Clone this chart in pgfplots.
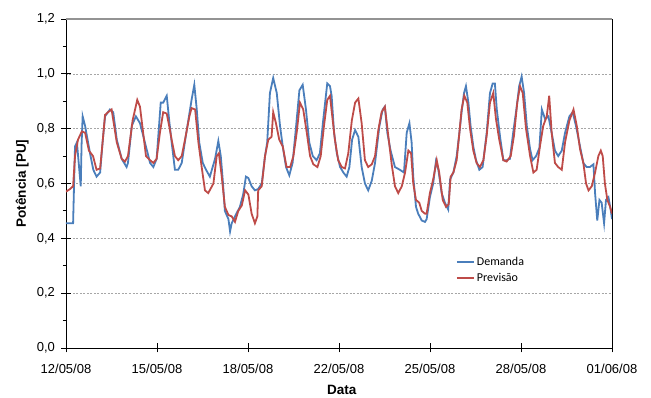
\documentclass[border=0pt]{standalone}
\usepackage{fontspec}
\setmainfont{Liberation Sans}
\newfontfamily\legendfont{Carlito}
\usepackage{pgfplots}
\pgfplotsset{compat=1.18}
\usepackage{pgfplotstable}
\definecolor{demblue}{RGB}{74,126,187}
\definecolor{prevred}{RGB}{190,75,72}

\pgfplotstableread{
d v
0.00 0.455
0.26 0.455
0.33 0.735
0.40 0.75
0.54 0.59
0.57 0.74
0.61 0.845
0.70 0.81
0.88 0.71
1.00 0.65
1.12 0.625
1.25 0.64
1.34 0.75
1.43 0.845
1.61 0.87
1.73 0.86
1.86 0.76
2.04 0.69
2.22 0.66
2.27 0.675
2.41 0.81
2.56 0.845
2.71 0.82
2.89 0.75
3.08 0.675
3.20 0.66
3.32 0.69
3.47 0.895
3.56 0.895
3.69 0.92
3.78 0.83
3.87 0.75
3.99 0.65
4.11 0.65
4.24 0.675
4.36 0.755
4.48 0.83
4.60 0.905
4.70 0.96
4.79 0.87
4.88 0.75
5.01 0.675
5.13 0.65
5.27 0.625
5.46 0.69
5.58 0.755
5.67 0.70
5.74 0.615
5.82 0.50
5.95 0.47
6.01 0.425
6.07 0.455
6.19 0.48
6.37 0.515
6.49 0.56
6.59 0.625
6.68 0.62
6.80 0.59
6.92 0.575
7.04 0.58
7.17 0.60
7.29 0.70
7.37 0.75
7.47 0.93
7.59 0.985
7.72 0.93
7.84 0.81
7.94 0.735
8.06 0.66
8.18 0.63
8.30 0.675
8.42 0.80
8.55 0.94
8.67 0.96
8.79 0.87
8.91 0.75
9.04 0.70
9.18 0.685
9.30 0.71
9.42 0.83
9.57 0.965
9.67 0.955
9.73 0.92
9.82 0.785
9.92 0.71
10.04 0.66
10.16 0.64
10.28 0.625
10.38 0.66
10.48 0.76
10.59 0.795
10.71 0.77
10.83 0.66
10.95 0.60
11.07 0.575
11.20 0.61
11.32 0.675
11.48 0.81
11.60 0.87
11.68 0.88
11.77 0.785
11.89 0.72
12.05 0.66
12.23 0.65
12.38 0.64
12.48 0.785
12.58 0.82
12.66 0.75
12.72 0.625
12.82 0.515
12.90 0.49
13.03 0.465
13.15 0.46
13.21 0.47
13.33 0.55
13.45 0.60
13.55 0.68
13.64 0.65
13.76 0.565
13.88 0.53
14.00 0.505
14.07 0.615
14.19 0.64
14.31 0.70
14.41 0.785
14.49 0.86
14.58 0.93
14.65 0.955
14.74 0.895
14.82 0.81
14.92 0.735
15.02 0.685
15.14 0.65
15.26 0.66
15.41 0.785
15.53 0.93
15.63 0.965
15.71 0.965
15.78 0.87
15.90 0.77
16.02 0.685
16.14 0.685
16.26 0.69
16.38 0.785
16.51 0.88
16.60 0.955
16.69 0.99
16.78 0.93
16.88 0.81
17.00 0.725
17.09 0.685
17.22 0.70
17.34 0.73
17.43 0.87
17.55 0.835
17.67 0.845
17.79 0.785
17.91 0.72
18.03 0.70
18.16 0.72
18.28 0.785
18.44 0.845
18.56 0.86
18.68 0.81
18.80 0.75
18.95 0.675
19.07 0.66
19.19 0.66
19.32 0.67
19.38 0.565
19.46 0.465
19.54 0.54
19.62 0.53
19.71 0.455
19.78 0.54
19.87 0.55
19.95 0.505
20.00 0.47
}\demanda

\pgfplotstableread{
d v
0.00 0.57
0.15 0.58
0.26 0.59
0.33 0.70
0.44 0.76
0.58 0.79
0.70 0.785
0.84 0.72
0.99 0.70
1.12 0.65
1.25 0.655
1.34 0.75
1.43 0.85
1.54 0.86
1.67 0.87
1.86 0.75
2.04 0.69
2.16 0.68
2.27 0.70
2.44 0.83
2.61 0.905
2.71 0.88
2.93 0.70
3.08 0.685
3.20 0.675
3.32 0.69
3.44 0.785
3.56 0.86
3.69 0.855
3.78 0.81
3.87 0.76
3.99 0.70
4.11 0.685
4.24 0.70
4.36 0.76
4.52 0.845
4.60 0.875
4.73 0.87
4.85 0.75
4.97 0.66
5.09 0.575
5.21 0.565
5.40 0.60
5.52 0.70
5.60 0.71
5.70 0.63
5.82 0.515
5.95 0.485
6.07 0.48
6.19 0.46
6.31 0.50
6.44 0.52
6.56 0.575
6.68 0.56
6.80 0.49
6.92 0.455
7.01 0.48
7.04 0.575
7.17 0.59
7.29 0.70
7.41 0.76
7.53 0.77
7.59 0.86
7.69 0.82
7.81 0.76
7.94 0.735
8.08 0.66
8.21 0.66
8.33 0.70
8.45 0.785
8.57 0.895
8.69 0.87
8.82 0.785
8.94 0.70
9.06 0.67
9.21 0.66
9.33 0.70
9.45 0.81
9.57 0.905
9.67 0.92
9.77 0.83
9.85 0.76
9.97 0.685
10.10 0.66
10.22 0.655
10.34 0.71
10.47 0.83
10.59 0.895
10.71 0.91
10.83 0.82
10.95 0.685
11.07 0.66
11.20 0.67
11.32 0.70
11.44 0.795
11.56 0.86
11.68 0.88
11.81 0.77
11.93 0.67
12.05 0.59
12.17 0.565
12.30 0.59
12.42 0.64
12.54 0.72
12.64 0.71
12.72 0.60
12.82 0.54
12.94 0.53
13.03 0.50
13.15 0.49
13.21 0.49
13.33 0.565
13.45 0.615
13.58 0.685
13.67 0.64
13.80 0.54
13.92 0.515
14.02 0.525
14.09 0.625
14.19 0.64
14.31 0.685
14.41 0.785
14.49 0.87
14.59 0.92
14.70 0.895
14.80 0.80
14.92 0.72
15.04 0.675
15.16 0.66
15.29 0.685
15.41 0.775
15.53 0.895
15.65 0.93
15.75 0.835
15.87 0.76
16.02 0.685
16.14 0.68
16.29 0.70
16.41 0.775
16.53 0.895
16.63 0.955
16.73 0.93
16.85 0.80
17.00 0.70
17.12 0.64
17.24 0.65
17.36 0.735
17.48 0.81
17.61 0.845
17.70 0.92
17.79 0.785
17.91 0.675
18.03 0.66
18.16 0.65
18.28 0.75
18.44 0.83
18.59 0.87
18.71 0.81
18.83 0.725
18.95 0.675
19.05 0.60
19.14 0.575
19.26 0.59
19.38 0.64
19.50 0.70
19.59 0.72
19.66 0.70
19.74 0.60
19.83 0.54
19.93 0.515
20.00 0.49
}\previsao

\begin{document}
\begin{tikzpicture}
\useasboundingbox (-66pt,-50pt) rectangle (585pt,348pt);
\begin{axis}[
  scale only axis, width=546pt, height=329pt,
  at={(0pt,0pt)}, anchor=south west,
  xmin=0, xmax=20, ymin=0, ymax=1.2,
  xtick={0,3.33333,6.66667,10,13.33333,16.66667,20},
  xticklabels={12/05/08,15/05/08,18/05/08,22/05/08,25/05/08,28/05/08,01/06/08},
  ytick={0,0.2,0.4,0.6,0.8,1.0,1.2},
  minor x tick num=1, minor y tick num=1,
  tick pos=left,
  tick align=outside,
  major tick length=4.5pt, minor tick length=3pt,
  extra x ticks={0,3.33333,6.66667,10,13.33333,16.66667,20},
  extra x tick labels={},
  extra y ticks={0,0.2,0.4,0.6,0.8,1.0,1.2},
  extra y tick labels={},
  extra tick style={tick align=inside, grid=none, major tick length=4.5pt},
  ymajorgrids,
  major grid style={gray!70, line width=0.6pt, dash pattern=on 2pt off 1.5pt},
  axis line style={black, line width=0.9pt},
  tick style={black, line width=0.9pt},
  /pgf/number format/assume math mode=true,
  ticklabel style={font=\fontsize{13}{15}\selectfont},
  xticklabel style={yshift=-8pt},
  yticklabel style={xshift=-3pt, /pgf/number format/.cd, fixed, fixed zerofill, precision=1, use comma},
  label style={font=\fontsize{13.5}{16}\selectfont\bfseries},
  xlabel={Data},
  ylabel={Potência [PU]},
  xlabel style={at={(axis description cs:0.505,-0.128)}, anchor=center},
  ylabel style={at={(axis description cs:-0.08,0.5)}, anchor=center, rotate=0},
  legend style={draw=none, fill=none, at={(axis description cs:0.712,0.285)}, anchor=north west,
    font=\legendfont\fontsize{12}{14}\selectfont, row sep=1.5pt, inner sep=1pt},
  legend cell align=left,
  legend image code/.code={\draw[#1, line width=2pt] (0pt,0pt) -- (17pt,0pt);},
]
\addplot[demblue, line width=1.8pt] table[x=d, y=v] {\demanda};
\addlegendentry{Demanda}
\addplot[prevred, line width=1.8pt] table[x=d, y=v] {\previsao};
\addlegendentry{Previsão}
\draw[gray!85, line width=1.2pt] (rel axis cs:0,1) -- (rel axis cs:1,1);
\end{axis}
\end{tikzpicture}
\end{document}
